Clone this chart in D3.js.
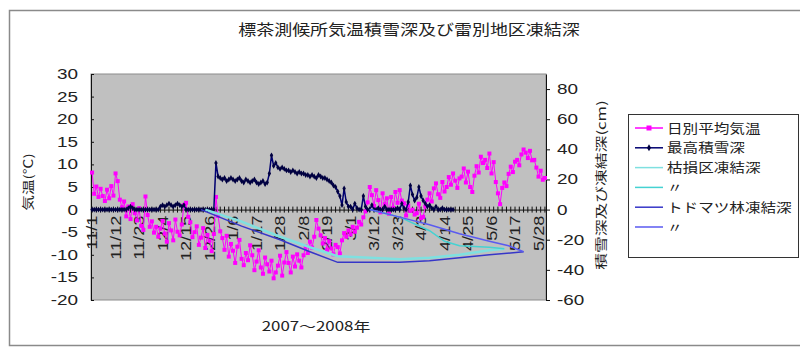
<!DOCTYPE html>
<html>
<head>
<meta charset="utf-8">
<script src="https://cdn.jsdelivr.net/npm/d3@7"></script>
<style>
  body { margin: 0; background: #fff; }
  svg { display: block; }
</style>
</head>
<body>
<svg id="chart" width="800" height="347"></svg>
<script>
// ---- text ----
const titleText = "標茶測候所気温積雪深及び雷別地区凍結深";
const xTitle = "2007～2008年";
const yLeftTitle = "気温(℃)";
const yRightTitle = "積雪深及び凍結深(cm)";

// ---- categories: one per day, 2007/11/1 .. 2008/5/31 ----
const days = d3.timeDay.range(new Date(2007, 10, 1), new Date(2008, 5, 1));
const dates = days.map(d => `${d.getMonth() + 1}/${d.getDate()}`);
const labelDates = ["11/1","11/12","11/23","12/4","12/15","12/26","1/6","1/17","1/28","2/8",
                    "2/19","3/1","3/12","3/23","4/3","4/14","4/25","5/6","5/17","5/28"];

// ---- daily mean temperature (°C) ----
const tempNov = [8.2, 3.5, 5.1, 2.8, 4.6, 3.0, 1.9, 4.4, 2.5, 5.2, 3.1, 8.0, 6.3, 2.2, 0.5,
                 1.8, -1.5, 0.7, -2.1, 1.2, -0.8, -2.4, 0.3, -3.6, -4.5, 2.9, -1.2, -3.8, -2.6, -5.1];
const tempDec = [-3.8, -6.0, -4.2, -2.5, -5.3, -7.1, -3.0, -4.6, -6.8, -2.2, -4.9, -5.7, -3.3, 1.0, 1.5,
                 -1.6, -2.8, -6.1, -5.0, -3.7, -7.8, -6.2, -4.1, -8.5, -5.6, -6.9, -9.2, -5.4, 2.8, -1.4, -4.8];
const tempJan = [-6.3, -8.9, -5.8, -10.4, -7.6, -9.1, -11.8, -8.2, -6.7, -10.9, -12.3, -9.6, -11.2, -7.9, -10.1,
                 -13.4, -11.5, -9.0, -12.8, -14.2, -10.6, -12.1, -13.7, -11.3, -15.2, -13.9, -12.4, -10.2, -14.6, -11.7, -9.4];
const tempFeb = [-11.8, -13.9, -10.4, -12.6, -9.9, -11.3, -12.8, -10.1, -8.2, -9.6, -7.1, -8.4, -6.0, -2.3, -4.2,
                 -5.7, -7.5, -6.3, -8.9, -7.0, -8.6, -9.9, -7.8, -8.3, -9.7, -6.8, -5.2, -6.0, -4.6];
const tempMar = [-5.5, -3.8, -4.9, -4.0, -2.7, -3.3, -1.7, -0.4, 1.6, 5.0, 3.2, 0.8, 4.3, 2.1, -0.6,
                 3.6, 1.2, 2.5, -0.9, 2.8, 0.4, 3.9, 1.5, 4.3, 2.0, 1.4, -1.3, 0.9, -0.3, 0.0, -1.1];
const tempApr = [-0.8, 1.3, -1.9, -1.6, 0.7, 2.2, 3.6, 1.8, 4.7, 5.8, 3.4, 2.6, 6.1, 4.0, 5.0,
                 7.2, 5.5, 8.0, 6.4, 4.8, 6.9, 7.3, 9.1, 6.0, 8.4, 5.0, 3.9, 7.5, 9.6, 8.2];
const tempMay = [11.7, 10.3, 11.0, 9.2, 12.4, 8.0, 10.5, 6.1, 3.6, 1.2, 4.8, 6.0, 5.2, 7.9, 9.5,
                 8.3, 10.6, 11.0, 9.8, 12.2, 13.3, 12.6, 11.4, 13.0, 10.9, 11.0, 9.3, 7.3, 8.6, 6.6, 7.0];

// ---- maximum snow depth (cm), 11/1 .. 4/18 ----
const snowNov = [0,0,0,0,0,0,0,0,0,0,0,0,0,0,0,0,0,1,2,1,0,0,0,0,0,0,0,0,0,0];
const snowDec = [0,0,2,3,2,3,4,3,2,3,4,3,2,3,0,0,0,0,0,0,0,0,0,0,0,0,0,0,31,22,21];
const snowJan = [20,21,19,20,21,20,19,20,21,19,18,20,19,18,19,20,18,17,18,19,17,18,24,36,29,31,28,27,28,27,26];
const snowFeb = [26,25,26,25,24,25,24,24,23,23,22,23,22,21,23,22,21,21,20,19,18,16,15,12,9,3,14,5,2];
const snowMar = [2,0,4,1,0,0,9,2,0,0,3,0,0,1,0,0,2,0,0,0,0,0,1,0,4,1,0,5,16,10,6];
const snowApr = [8,15,9,6,4,2,3,1,0,2,0,0,1,0,0,0,0,0];

// ---- frost depth (cm, negative = below ground), measurement days ----
const frostKareDates  = ["12/24","1/10","1/28","2/11","2/24","3/10","3/24","4/7","4/21","5/5","5/12"];
const frostKare       = [0, -8, -18, -25, -31, -32, -33, -32, -30, -27, -26];
const frostKare2Dates = ["3/10","3/24","4/7","4/14","4/21","5/5","5/12"];
const frostKare2      = [0, -5, -14, -21, -24, -25, -26];
const frostTodoDates  = ["12/22","1/10","1/28","2/11","2/24","3/10","3/24","4/7","4/21","5/5","5/21"];
const frostTodo       = [0, -11, -20, -28, -35, -35, -35, -34, -32, -30, -28];
const frostTodo2Dates = ["3/10","3/24","4/7","4/21","5/5","5/14","5/21"];
const frostTodo2      = [0, -5, -10, -16, -21, -24, -28];

const leftTicks = d3.range(-20, 31, 5);
const rightTicks = d3.range(-60, 81, 20);

// ---- build series ----
const temps = [].concat(tempNov, tempDec, tempJan, tempFeb, tempMar, tempApr, tempMay);
const snow = [].concat(snowNov, snowDec, snowJan, snowFeb, snowMar, snowApr);
const tempData = temps.map((v, i) => ({ d: dates[i], v }));
const snowData = snow.map((v, i) => ({ d: dates[i], v }));
const pairs = (ds, vs) => ds.map((d, i) => ({ d, v: vs[i] }));

const frostSeries = [
  { name: "枯損区凍結深", data: pairs(frostKareDates, frostKare), color: "#7fe0e0", w: 2.5 },
  { name: "〃", data: pairs(frostKare2Dates, frostKare2), color: "#45d2d2", w: 1.5 },
  { name: "トドマツ林凍結深", data: pairs(frostTodoDates, frostTodo), color: "#3636c8", w: 1.5 },
  { name: "〃", data: pairs(frostTodo2Dates, frostTodo2), color: "#5a5af0", w: 1.5 }
];

// ---- layout ----
const svg = d3.select("#chart");
const P = { l: 91, r: 546, t: 74, b: 300 };
const MAG = "#ff00ff", NAVY = "#000070";
const FONT_NUM = "'Liberation Sans', Arial, sans-serif";
const FONT_JP = "'Noto Sans CJK JP', 'Noto Sans', sans-serif";

const x = d3.scaleBand().domain(dates).range([P.l, P.r]);
const cx = d => x(d) + x.bandwidth() / 2;
const yL = d3.scaleLinear().domain([-20, 30]).range([P.b, P.t]);
const yR = d3.scaleLinear().domain([-60, 90]).range([P.b, P.t]);

// chart frame
svg.append("rect").attr("x", 9.5).attr("y", 10.5).attr("width", 800).attr("height", 335)
  .attr("fill", "#fff").attr("stroke", "#8a8a8a").attr("stroke-width", 1.5);

// helper for horizontally stretched text
function label(g, x0, y0, str, o) {
  return g.append("text")
    .attr("transform", `translate(${x0},${y0})${o.rot ? ` rotate(${o.rot})` : ""} scale(${o.sx || 1},1)`)
    .attr("text-anchor", o.anchor || "middle")
    .attr("dy", o.dy || "0.35em")
    .attr("font-family", o.family || FONT_JP)
    .attr("font-size", o.size)
    .attr("fill", o.fill || "#222")
    .text(str);
}

// title
label(svg, 409, 30, titleText, { size: 15, sx: 1.2 });

// plot area
svg.append("rect").attr("x", P.l).attr("y", P.t).attr("width", P.r - P.l).attr("height", P.b - P.t)
  .attr("fill", "#c0c0c0").attr("stroke", "#8c8c8c");

// zero-line category axis: tick marks every 2 days, crossing the line
const tickAxis = svg.append("g").attr("transform", `translate(0,${yL(0)})`)
  .call(d3.axisBottom(x).tickValues(dates.filter((d, i) => i % 2 === 0))
    .tickSizeInner(3).tickSizeOuter(0).tickFormat(""));
tickAxis.selectAll(".tick line").attr("y1", -3).attr("y2", 3).attr("stroke", "#111");
tickAxis.select(".domain").attr("stroke", "#111");

// category labels, rotated
const labAxis = svg.append("g").attr("transform", `translate(0,${yL(0)})`)
  .call(d3.axisBottom(x).tickValues(labelDates).tickSize(0).tickPadding(0));
labAxis.select(".domain").remove();
labAxis.selectAll(".tick text")
  .attr("x", 0).attr("y", 0).attr("dy", "0.36em")
  .attr("transform", "translate(0,6) rotate(-90) scale(1.3,1)")
  .attr("text-anchor", "end")
  .attr("font-family", FONT_NUM).attr("font-size", 14).attr("fill", "#222");

// left axis
const la = svg.append("g").attr("transform", `translate(${P.l},0)`)
  .call(d3.axisLeft(yL).tickValues(leftTicks).tickSizeInner(-3).tickSizeOuter(0)
    .tickPadding(13).tickFormat(d => String(d)));
la.select(".domain").attr("stroke", "#111");
la.selectAll(".tick line").attr("stroke", "#111");
la.selectAll(".tick text").each(function () {
  const t = d3.select(this), xx = +t.attr("x");
  t.attr("x", 0).attr("transform", `translate(${xx},0) scale(1.35,1)`)
    .attr("font-family", FONT_NUM).attr("font-size", 14).attr("fill", "#222");
});

// right axis
const ra = svg.append("g").attr("transform", `translate(${P.r},0)`)
  .call(d3.axisRight(yR).tickValues(rightTicks).tickSizeInner(4).tickSizeOuter(0)
    .tickPadding(7).tickFormat(d => String(d)));
ra.select(".domain").attr("stroke", "#111");
ra.selectAll(".tick line").attr("stroke", "#111");
ra.selectAll(".tick text").each(function () {
  const t = d3.select(this), xx = +t.attr("x");
  t.attr("x", 0).attr("transform", `translate(${xx},0) scale(1.35,1)`)
    .attr("font-family", FONT_NUM).attr("font-size", 14).attr("fill", "#222");
});

// axis titles
label(svg, 29, 182, yLeftTitle, { size: 12, sx: 1.3, rot: -90 });
label(svg, 602, 185, yRightTitle, { size: 12, sx: 1.4, rot: -90 });
label(svg, 316, 326, xTitle, { size: 13, sx: 1.3 });

// ---- series ----
// daily mean temperature (left axis)
const tempLine = d3.line().x(d => cx(d.d)).y(d => yL(d.v));
svg.append("path").datum(tempData).attr("d", tempLine)
  .attr("fill", "none").attr("stroke", MAG).attr("stroke-width", 1);
svg.append("g").selectAll("rect").data(tempData).join("rect")
  .attr("x", d => cx(d.d) - 2).attr("y", d => yL(d.v) - 2)
  .attr("width", 4).attr("height", 4).attr("fill", MAG);

// snow depth (right axis)
const snowLine = d3.line().x(d => cx(d.d)).y(d => yR(d.v));
svg.append("path").datum(snowData).attr("d", snowLine)
  .attr("fill", "none").attr("stroke", NAVY).attr("stroke-width", 1.5);
svg.append("g").selectAll("path").data(snowData).join("path")
  .attr("d", d3.symbol(d3.symbolDiamond, 10))
  .attr("transform", d => `translate(${cx(d.d)},${yR(d.v)})`)
  .attr("fill", "#000040");

// frost depth (right axis)
const frostLine = d3.line().x(d => cx(d.d)).y(d => yR(d.v));
frostSeries.forEach(s => {
  svg.append("path").datum(s.data).attr("d", frostLine)
    .attr("fill", "none").attr("stroke", s.color).attr("stroke-width", s.w);
});

// ---- legend ----
const lg = svg.append("g");
lg.append("rect").attr("x", 628.5).attr("y", 114.5).attr("width", 170).attr("height", 143)
  .attr("fill", "#fff").attr("stroke", "#333");
const legendItems = [
  { name: "日別平均気温", color: MAG, marker: "square" },
  { name: "最高積雪深", color: NAVY, marker: "diamond" },
  ...frostSeries.map(s => ({ name: s.name, color: s.color, marker: null }))
];
legendItems.forEach((it, i) => {
  const yy = 128 + i * 19.8;
  lg.append("line").attr("x1", 635).attr("x2", 663).attr("y1", yy).attr("y2", yy)
    .attr("stroke", it.color).attr("stroke-width", 1.5);
  if (it.marker === "square") {
    lg.append("rect").attr("x", 646.5).attr("y", yy - 2.5).attr("width", 5).attr("height", 5).attr("fill", it.color);
  } else if (it.marker === "diamond") {
    lg.append("path").attr("d", d3.symbol(d3.symbolDiamond, 14))
      .attr("transform", `translate(649,${yy})`).attr("fill", "#000040");
  }
  label(lg, 667, yy, it.name, { size: 13, sx: 1.2, anchor: "start" });
});
</script>
</body>
</html>
